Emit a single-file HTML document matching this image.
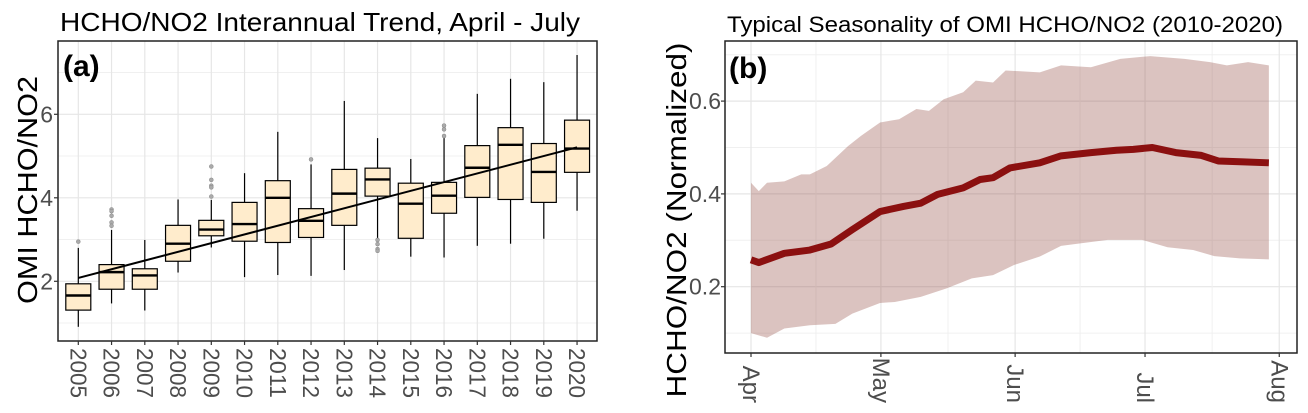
<!DOCTYPE html>
<html><head><meta charset="utf-8"><style>
body{margin:0;background:#fff}
svg{display:block;font-family:"Liberation Sans",sans-serif}
</style></head><body>
<svg id="chart" width="1308" height="413" viewBox="0 0 1308 413">
<rect width="1308" height="413" fill="#fff"/>
<g id="left"></g>
<g id="right"></g>
</svg>
<script>
// Panel (a) data
const years = ['2005','2006','2007','2008','2009','2010','2011','2012','2013','2014','2015','2016','2017','2018','2019','2020'];
const whiskLow = [0.91,1.47,1.30,2.21,2.81,2.10,2.15,2.13,2.27,3.01,2.59,2.57,2.85,2.90,3.02,3.69];
const q1 = [1.31,1.81,1.81,2.48,3.09,2.96,2.93,3.05,3.34,4.04,3.03,3.63,4.01,3.96,3.89,4.61];
const med = [1.66,2.22,2.14,2.90,3.24,3.37,4.00,3.45,4.10,4.44,3.86,4.05,4.72,5.27,4.62,5.18];
const q3 = [1.94,2.40,2.30,3.34,3.46,3.89,4.41,3.74,4.68,4.71,4.35,4.37,5.25,5.68,5.30,5.86];
const whiskHigh = [2.80,3.23,2.99,3.96,3.95,4.59,5.58,4.80,6.32,5.43,4.93,5.44,6.49,6.85,6.77,7.42];
const outlierYear = [0,1,1,1,1,1,4,4,4,4,4,7,9,9,9,9,11,11,11];
const outlierVal = [2.95,3.72,3.68,3.57,3.41,3.33,4.75,4.43,4.29,4.25,4.03,4.92,2.99,2.89,2.77,2.73,5.73,5.64,5.48];
const trendStart = 2.08, trendEnd = 5.21;
const yTicksA = [2,4,6];
const yMinorA = [1,3,5,7];

// Panel (b) data
const monthLabels = ['Apr','May','Jun','Jul','Aug'];
const monthDays = [0,30,61,91,122];
const meanDays = [0,1.8,7.7,13.6,18.5,23.4,29.8,35.2,39.2,43.1,49,52.9,55.9,59.8,66.7,71.6,78.5,84.4,88.3,92.7,98.1,104,107.9,113.8,119.6];
const meanVals = [0.258,0.252,0.272,0.279,0.292,0.323,0.362,0.373,0.38,0.399,0.413,0.431,0.435,0.456,0.467,0.482,0.489,0.494,0.496,0.5,0.489,0.483,0.471,0.469,0.467];
const upDays = [0,1.8,3.7,7.7,11.6,13.6,17.5,22.4,25.4,29.8,34.2,38.2,41.1,44.5,49,51.9,55.9,58.8,66.7,71.6,78.5,85.3,92.2,100.1,106,109.9,114.8,119.6];
const upVals = [0.424,0.406,0.424,0.427,0.442,0.442,0.46,0.503,0.525,0.554,0.561,0.583,0.579,0.604,0.619,0.644,0.64,0.666,0.662,0.677,0.673,0.691,0.697,0.691,0.684,0.677,0.684,0.677];
const loDays = [0,3.7,7.7,13.6,19.5,23.4,29.8,33.2,39.2,45.1,51,55.9,60.8,66.7,71.6,76.5,82.4,90.3,96.2,102.1,107,112.9,119.6];
const loVals = [0.1,0.09,0.11,0.117,0.12,0.142,0.165,0.167,0.178,0.196,0.218,0.225,0.247,0.265,0.288,0.294,0.301,0.301,0.285,0.279,0.266,0.261,0.259];
const yTicksB = [0.2,0.4,0.6];
const yMinorB = [0.1,0.3,0.5,0.7];

const NS='http://www.w3.org/2000/svg';
function mk(parent,tag,attrs,text){const e=document.createElementNS(NS,tag);for(const k in attrs)e.setAttribute(k,attrs[k]);if(text!==undefined)e.textContent=text;parent.appendChild(e);return e;}

// ---------- Panel A ----------
const A=document.getElementById('left');
const aL=58,aR=597,aT=41,aB=341;
const xA=i=>78.3+i*33.25;
const yA=v=>281.3-(v-2)*41.75;
let e;
yMinorA.forEach(v=>{e=mk(A,'line',{x1:aL,x2:aR,y1:yA(v),y2:yA(v),stroke:'#f0f0f0','stroke-width':1});

});
yTicksA.forEach(v=>{e=mk(A,'line',{x1:aL,x2:aR,y1:yA(v),y2:yA(v),stroke:'#e6e6e6','stroke-width':1.2});

});
years.forEach((y,i)=>{e=mk(A,'line',{x1:xA(i),x2:xA(i),y1:aT,y2:aB,stroke:'#e6e6e6','stroke-width':1.2});

});
years.forEach((y,i)=>{
  const g=mk(A,'g',{});
  
  
  const x=xA(i),w=25;
  mk(g,'line',{x1:x,x2:x,y1:yA(whiskHigh[i]),y2:yA(q3[i]),stroke:'#000','stroke-width':1.2});
  mk(g,'line',{x1:x,x2:x,y1:yA(q1[i]),y2:yA(whiskLow[i]),stroke:'#000','stroke-width':1.2});
  mk(g,'rect',{x:x-w/2,y:yA(q3[i]),width:w,height:yA(q1[i])-yA(q3[i]),fill:'#ffeccc',stroke:'#000','stroke-width':1.2});
  mk(g,'line',{x1:x-w/2,x2:x+w/2,y1:yA(med[i]),y2:yA(med[i]),stroke:'#000','stroke-width':2.4});
});
outlierVal.forEach((v,k)=>{e=mk(A,'circle',{cx:xA(outlierYear[k]),cy:yA(v),r:2,fill:'#aaa',stroke:'#888','stroke-width':0.5});

});
e=mk(A,'line',{x1:xA(0),x2:xA(years.length-1),y1:yA(trendStart),y2:yA(trendEnd),stroke:'#000','stroke-width':2});


e=mk(A,'rect',{x:aL,y:aT,width:aR-aL,height:aB-aT,fill:'none',stroke:'#222','stroke-width':1.5});


yTicksA.forEach(v=>{
  e=mk(A,'line',{x1:aL-4,x2:aL,y1:yA(v),y2:yA(v),stroke:'#333','stroke-width':1.2});
  
  
  e=mk(A,'text',{x:aL-5,y:yA(v)+8,'text-anchor':'end','font-size':23,fill:'#4d4d4d'},String(v));
  
  
});
years.forEach((y,i)=>{
  e=mk(A,'line',{x1:xA(i),x2:xA(i),y1:aB,y2:aB+4,stroke:'#333','stroke-width':1.2});
  
  
  e=mk(A,'text',{transform:`translate(${xA(i)-8},398) rotate(90)`,'text-anchor':'end','font-size':23,fill:'#4d4d4d',textLength:50,lengthAdjust:'spacingAndGlyphs'},y);
  
  
});
e=mk(A,'text',{x:60,y:31,'font-size':26,fill:'#000',textLength:520,lengthAdjust:'spacingAndGlyphs'},'HCHO/NO2 Interannual Trend, April - July');


e=mk(A,'text',{x:63,y:76,'font-size':30,'font-weight':'bold',fill:'#000'},'(a)');


e=mk(A,'text',{transform:'translate(37,190) rotate(-90)','text-anchor':'middle','font-size':28,fill:'#000',textLength:228,lengthAdjust:'spacingAndGlyphs'},'OMI HCHO/NO2');



// ---------- Panel B ----------
const B=document.getElementById('right');
const bL=725,bR=1297,bT=41,bB=353;
const xB=d=>751+d*4.33;
const yB=v=>286.7-(v-0.2)*464;
yMinorB.forEach(v=>{e=mk(B,'line',{x1:bL,x2:bR,y1:yB(v),y2:yB(v),stroke:'#f0f0f0','stroke-width':1});

});
yTicksB.forEach(v=>{e=mk(B,'line',{x1:bL,x2:bR,y1:yB(v),y2:yB(v),stroke:'#e6e6e6','stroke-width':1.2});

});
monthDays.forEach((d,i)=>{e=mk(B,'line',{x1:xB(d),x2:xB(d),y1:bT,y2:bB,stroke:'#e6e6e6','stroke-width':1.2});


if(i<monthDays.length-1){const m=(d+monthDays[i+1])/2;e=mk(B,'line',{x1:xB(m),x2:xB(m),y1:bT,y2:bB,stroke:'#f0f0f0','stroke-width':1});

}});
let pts=upDays.map((d,i)=>xB(d)+','+yB(upVals[i]));
for(let i=loDays.length-1;i>=0;i--)pts.push(xB(loDays[i])+','+yB(loVals[i]));
e=mk(B,'polygon',{points:pts.join(' '),fill:'rgb(152,84,75)','fill-opacity':0.35});


e=mk(B,'polyline',{points:meanDays.map((d,i)=>xB(d)+','+yB(meanVals[i])).join(' '),fill:'none',stroke:'#8b1010','stroke-width':7,'stroke-linejoin':'round'});


e=mk(B,'rect',{x:bL,y:bT,width:bR-bL,height:bB-bT,fill:'none',stroke:'#222','stroke-width':1.5});


yTicksB.forEach(v=>{
  e=mk(B,'line',{x1:bL-4,x2:bL,y1:yB(v),y2:yB(v),stroke:'#333','stroke-width':1.2});
  
  
  e=mk(B,'text',{x:bL-4,y:yB(v)+8,'text-anchor':'end','font-size':23,fill:'#4d4d4d'},v.toFixed(1));
  
  
});
monthDays.forEach((d,i)=>{
  e=mk(B,'line',{x1:xB(d),x2:xB(d),y1:bB,y2:bB+4,stroke:'#333','stroke-width':1.2});
  
  
  e=mk(B,'text',{transform:`translate(${xB(d)-8},403) rotate(90)`,'text-anchor':'end','font-size':24,fill:'#4d4d4d'},monthLabels[i]);
  
  
});
e=mk(B,'text',{x:727,y:32,'font-size':22,fill:'#000',textLength:556,lengthAdjust:'spacingAndGlyphs'},'Typical Seasonality of OMI HCHO/NO2 (2010-2020)');


e=mk(B,'text',{x:729,y:78,'font-size':30,'font-weight':'bold',fill:'#000'},'(b)');


e=mk(B,'text',{transform:'translate(686,220) rotate(-90)','text-anchor':'middle','font-size':28,fill:'#000',textLength:355,lengthAdjust:'spacingAndGlyphs'},'HCHO/NO2 (Normalized)');


</script>
</body></html>
